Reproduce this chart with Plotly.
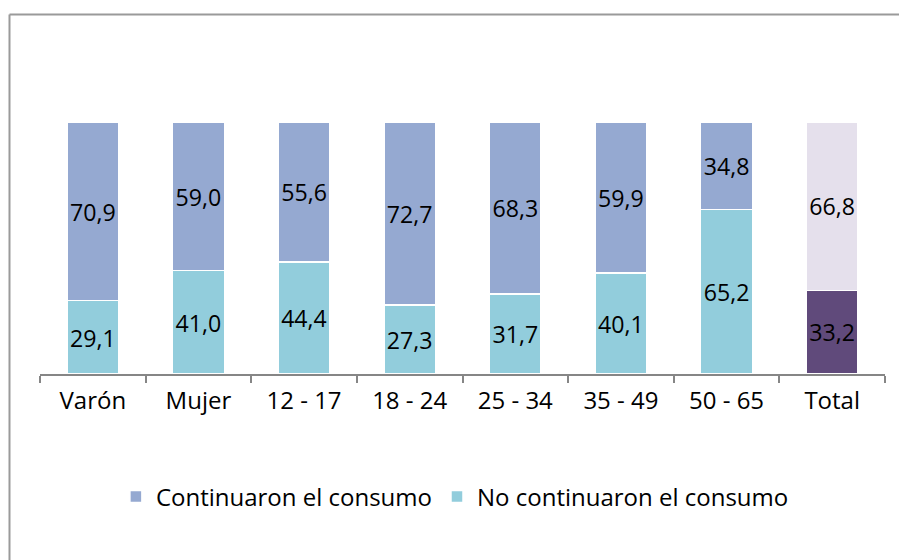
import plotly.graph_objects as go

categorias = ["Varón", "Mujer", "12 - 17", "18 - 24", "25 - 34", "35 - 49", "50 - 65", "Total"]
continuaron = [70.9, 59.0, 55.6, 72.7, 68.3, 59.9, 34.8, 66.8]
no_continuaron = [29.1, 41.0, 44.4, 27.3, 31.7, 40.1, 65.2, 33.2]

def etiqueta(v):
    return f"{v:.1f}".replace(".", ",")

col_cont = ["#95A9D1"] * 7 + ["#E5E0EC"]
col_no = ["#92CDDC"] * 7 + ["#604A7B"]

FUENTE = "Open Sans"
TAM = 24

fig = go.Figure()
fig.add_trace(go.Bar(
    x=categorias, y=no_continuaron, name="No continuaron el consumo",
    marker=dict(color=col_no, line=dict(color="white", width=1.5)),
    text=[etiqueta(v) for v in no_continuaron], textposition="inside",
    insidetextanchor="middle", textangle=0,
    textfont=dict(color="black", size=TAM, family=FUENTE),
))
fig.add_trace(go.Bar(
    x=categorias, y=continuaron, name="Continuaron el consumo",
    marker=dict(color=col_cont, line=dict(color="white", width=1.5)),
    text=[etiqueta(v) for v in continuaron], textposition="inside",
    insidetextanchor="middle", textangle=0,
    textfont=dict(color="black", size=TAM, family=FUENTE),
))

# marco exterior: sólo bordes superior e izquierdo, el resto queda fuera de la imagen
borde = dict(color="#9A9A9A", width=2)
fig.add_shape(type="line", xref="paper", yref="paper",
              x0=-0.0361, x1=1.2, y0=1.4266, y1=1.4266, line=borde)
fig.add_shape(type="line", xref="paper", yref="paper",
              x0=-0.0361, x1=-0.0361, y0=-1.2, y1=1.4266, line=borde)

# la página html deja 8px de margen: figura más pequeña y márgenes corridos
fig.update_layout(
    barmode="stack", bargap=0.51,
    width=899, height=552,
    margin=dict(l=32, r=22, t=114, b=186),
    plot_bgcolor="white", paper_bgcolor="white",
    font=dict(family=FUENTE, size=TAM, color="black"),
    showlegend=True,
    legend=dict(orientation="h", traceorder="reversed", x=0.491, xanchor="center",
                y=-0.488, yanchor="middle", font=dict(size=TAM),
                itemwidth=30),
    uniformtext=dict(mode=False),
)
fig.update_xaxes(showline=True, linecolor="#868686", linewidth=1.5,
                 ticks="outside", tickson="boundaries", ticklen=7,
                 tickcolor="#868686", tickwidth=1.5, showgrid=False,
                 ticklabelstandoff=4, tickfont=dict(size=TAM))
fig.update_yaxes(range=[0, 100], visible=False, showgrid=False)

fig.write_html("out.html")
